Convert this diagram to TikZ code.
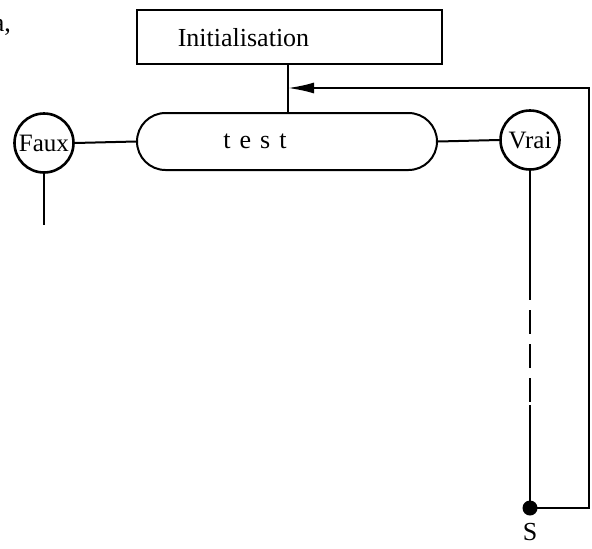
\documentclass[tikz,border=0pt]{standalone}
\usepackage{fontspec}
\setmainfont{Liberation Serif}
\usetikzlibrary{shapes.misc,arrows.meta}
\begin{document}
\begin{tikzpicture}[x=1pt,y=1pt,
  line/.style={line width=2pt},
  txt/.style={font=\fontsize{26}{28}\selectfont, inner sep=0pt},
  bubble/.style={circle, draw, line width=2.6pt, minimum size=59pt, inner sep=0pt, font=\fontsize{25}{26}\selectfont}]
\useasboundingbox (0,0) rectangle (592,-549);
% stray scan fragment
\node[txt, anchor=base east] (frag) at (11,-31) {a,};
% boxes
\node[draw, line width=2pt, minimum width=305pt, minimum height=54pt, inner sep=0pt] (init) at (289.5,-37) {};
\node[txt] (inittxt) at (243.5,-38) {Initialisation};
\node[rounded rectangle, draw, line width=2pt, minimum width=300pt, minimum height=57pt, inner sep=0pt] (test) at (287,-141.5) {};
\node[txt] (testtxt) at (255,-141) {t\hspace{9pt}e\hspace{9pt}s\hspace{9pt}t};
\node[bubble] (faux) at (44,-143) {Faux};
\node[bubble] (vrai) at (530,-140) {Vrai};
\node[circle, fill, minimum size=15pt, inner sep=0pt] (dot) at (530,-508) {};
\node[txt] (S) at (530,-532) {S};
% coordinates
\coordinate (j) at (288,-88);
\coordinate (rb) at (589,-508);
\coordinate (rt) at (589,-88);
\coordinate (d1) at (530,-276);
\coordinate (d2) at (530,-405);
\coordinate (fend) at (44,-225);
% connectors
\draw[line] (j |- init.south) -- (j |- test.north);
\draw[line] (faux.east) -- (test.west);
\draw[line] (test.east) -- (vrai.west);
\draw[line] (faux.south) -- (fend);
\draw[line] (vrai.south) -- (d1);
\draw[line width=2.8pt, dash pattern=on 24pt off 10pt] (d1) -- (d2);
\draw[line] (d2) -- (dot.center);
\draw[line, -{Latex[length=26pt,width=11pt]}] (dot.center) -- (rb) -- (rt) -- (j);
\end{tikzpicture}
\end{document}
